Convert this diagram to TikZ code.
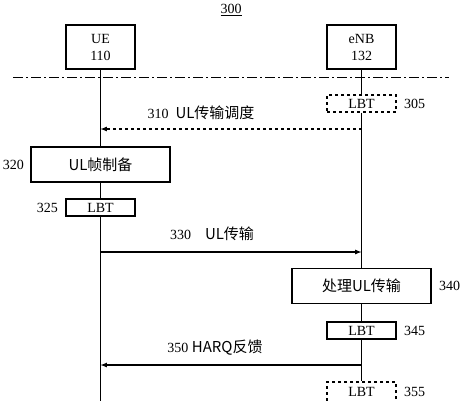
\documentclass[tikz,border=0pt]{standalone}
\usepackage{fontspec}
\setmainfont{Liberation Serif}
\newfontfamily\cjk{Noto Sans CJK SC}
\usetikzlibrary{positioning}

\begin{document}
\begin{tikzpicture}[x=1pt, y=-1pt, >=latex, line width=1.2pt,
  every node/.style={font=\fontsize{14}{17}\selectfont},
  entity/.style={rectangle, draw, fill=white, text width=60pt, align=center, minimum width=69pt, minimum height=44pt, inner sep=1pt},
  lbtbox/.style={rectangle, draw, fill=white, minimum width=69pt, minimum height=17pt, inner sep=0pt},
  lbtdash/.style={lbtbox, dashed},
  procbox/.style={rectangle, draw, fill=white, minimum width=139pt, minimum height=35pt, inner sep=0pt},
  tag/.style={inner sep=0pt},
  msg/.style={inner sep=1pt},
  sepline/.style={line width=1pt, dash pattern=on 10pt off 3pt on 2pt off 3pt}]
   \clip (0,0) rectangle (462,400);
   \node (title) at (231,10) {\underline{300}};
   \node[entity] (ue) at (100.5,47) {UE\\110};
   \node[entity] (enb) at (361.5,47) {eNB\\132};
   \coordinate (sepl) at (13,77);
   \coordinate (sepr) at (449,77);
   \coordinate (ueend) at (100.5,410);
   \coordinate (enbend) at (361.5,410);
   \node[lbtdash] (lbt305) at (361.5,103.5) {LBT};
   \node[tag, right=7pt of lbt305] (t305) {305};
   \node[procbox] (prep) at (100.5,164.5) {\cjk\fontsize{15}{17}\selectfont UL帧制备};
   \node[tag, left=6pt of prep] (t320) {320};
   \node[lbtbox] (lbt325) at (100.5,207.5) {LBT};
   \node[tag, left=7pt of lbt325] (t325) {325};
   \node[procbox] (proc) at (361.5,286) {\cjk\fontsize{15}{17}\selectfont 处理UL传输};
   \node[tag, right=7pt of proc] (t340) {340};
   \node[lbtbox] (lbt345) at (361.5,330.5) {LBT};
   \node[tag, right=7pt of lbt345] (t345) {345};
   \node[lbtdash, minimum height=20pt] (lbt355) at (361.5,392) {LBT};
   \node[tag, right=7pt of lbt355] (t355) {355};
   % life lines
   \draw[sepline] (sepl) -- (sepr);
   \draw (ue) -- (prep);
   \draw (prep) -- (lbt325);
   \draw (lbt325) -- (ueend);
   \draw (enb) -- (lbt305);
   \draw (lbt305) -- (proc);
   \draw (proc) -- (lbt345);
   \draw (lbt345) -- (lbt355);
   \draw (lbt355) -- (enbend);
   % messages
   \coordinate (m310e) at (361.5,129);
   \coordinate (m310u) at (100.5,129);
   \coordinate (m330u) at (100.5,252);
   \coordinate (m330e) at (361.5,252);
   \coordinate (m350e) at (361.5,365);
   \coordinate (m350u) at (100.5,365);
   \draw[->, dashed] (m310e) -- (m310u);
   \draw[->] (m330u) -- (m330e);
   \draw[->] (m350e) -- (m350u);
   \node[msg] (l310) at (201,113) {310\hspace{7pt}{\cjk\fontsize{15}{17}\selectfont UL传输调度}};
   \node[msg] (l330) at (212,234) {330\hspace{14pt}{\cjk\fontsize{15}{17}\selectfont UL传输}};
   \node[msg] (l350) at (215,348) {350 {\cjk\fontsize{15}{17}\selectfont HARQ反馈}};
\end{tikzpicture}
\end{document}
